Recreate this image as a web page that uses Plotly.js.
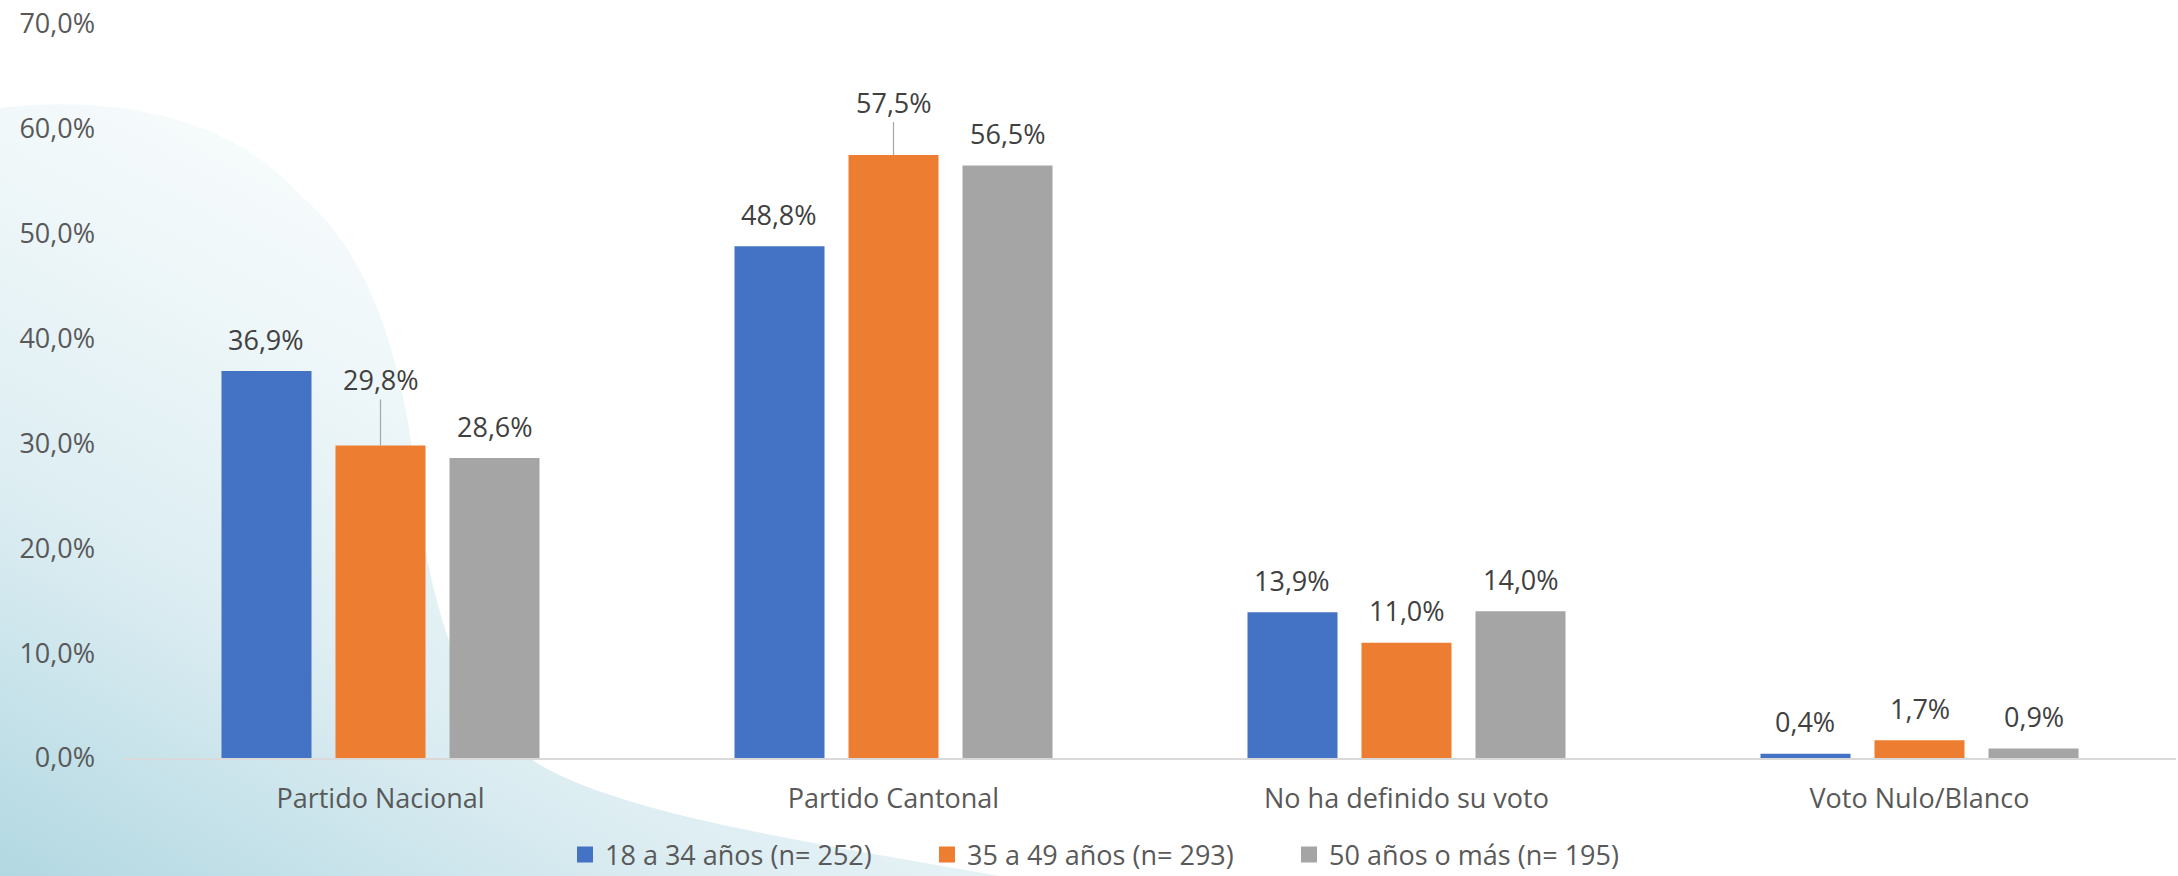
<!DOCTYPE html>
<html>
<head>
<meta charset="utf-8">
<script src="https://cdn.plot.ly/plotly-3.0.1.min.js"></script>
<style>
  html, body { margin: 0; padding: 0; background: #ffffff; }
  #chart { width: 2178px; height: 876px; }
</style>
</head>
<body>
<div id="chart"></div>
<script>
// ---- data ----
const categories = ['Partido Nacional', 'Partido Cantonal', 'No ha definido su voto', 'Voto Nulo/Blanco'];
const seriesNames = ['18 a 34 años (n= 252)', '35 a 49 años (n= 293)', '50 años o más (n= 195)'];
const age18to34 = [36.9, 48.8, 13.9, 0.4];
const age35to49 = [29.8, 57.5, 11.0, 1.7];
const age50plus = [28.6, 56.5, 14.0, 0.9];
const yTickVals = [0, 10, 20, 30, 40, 50, 60, 70];

// ---- styles ----
const seriesValues = [age18to34, age35to49, age50plus];
const colors = ['#4472C4', '#ED7D31', '#A5A5A5'];
const FONT = '"Open Sans", "Noto Sans", Lato, sans-serif';
const W = 2178, H = 876;
const M = { l: 124, r: 2, t: 24, b: 118 };
const plotW = W - M.l - M.r, plotH = H - M.t - M.b;
const BARGAP = 0.3333, BARGROUPGAP = 0.2105;
const slot = (1 - BARGAP) / 3;
const offsets = [-slot, 0, slot];
// labels moved up with a leader line: key "series-category" -> pixel offset
const raisedLabels = { '1-0': 66, '1-1': 53 };
const LABEL_SHIFT = 32;

function fmt(v) { return v.toFixed(1).replace('.', ',') + '%'; }

const traces = seriesValues.map((vals, s) => ({
  type: 'bar',
  name: seriesNames[s],
  x: categories,
  y: vals,
  marker: { color: colors[s] },
  showlegend: false,
  hoverinfo: 'skip'
}));
// legend entries (square swatches)
seriesNames.forEach((n, s) => traces.push({
  type: 'scatter', mode: 'markers', name: n,
  x: [null], y: [null],
  marker: { symbol: 'square', size: 16, color: colors[s] },
  showlegend: true, hoverinfo: 'skip'
}));

const annotations = [];
seriesValues.forEach((vals, s) => {
  vals.forEach((v, i) => {
    const key = s + '-' + i;
    const base = {
      x: i + offsets[s], xref: 'x', y: v, yref: 'y',
      text: fmt(v),
      font: { family: FONT, size: 27, color: '#404040' }
    };
    if (raisedLabels[key]) {
      annotations.push(Object.assign(base, {
        showarrow: true, arrowhead: 0, arrowwidth: 1.2, arrowcolor: '#A6A6A6',
        ax: 0, ay: -raisedLabels[key], standoff: 0
      }));
    } else {
      annotations.push(Object.assign(base, {
        showarrow: false, yanchor: 'middle', yshift: LABEL_SHIFT
      }));
    }
  });
});

const bgSvg =
  '<svg xmlns="http://www.w3.org/2000/svg" width="' + W + '" height="' + H + '" viewBox="0 0 ' + W + ' ' + H + '">' +
  '<defs><linearGradient id="g" gradientUnits="userSpaceOnUse" x1="0" y1="876" x2="400" y2="140">' +
  '<stop offset="0" stop-color="#b2d8e2"/>' +
  '<stop offset="0.4" stop-color="#dcedf2"/>' +
  '<stop offset="0.75" stop-color="#eff7f9"/>' +
  '<stop offset="1" stop-color="#fafdfd"/>' +
  '</linearGradient></defs>' +
  '<path d="M0,108 C110,95 230,115 300,195 C380,260 410,390 420,520 C440,640 470,720 540,765 C620,810 760,835 1000,876 L0,876 Z" fill="url(#g)"/>' +
  '</svg>';

const layout = {
  width: W, height: H,
  margin: M,
  paper_bgcolor: '#ffffff',
  plot_bgcolor: 'rgba(0,0,0,0)',
  separators: ',.',
  barmode: 'group',
  bargap: BARGAP,
  bargroupgap: BARGROUPGAP,
  font: { family: FONT, size: 27, color: '#595959' },
  xaxis: {
    type: 'category',
    range: [-0.5, 3.5],
    showline: true, linecolor: '#D9D9D9', linewidth: 2,
    showgrid: false, zeroline: false,
    ticks: '', ticklabelstandoff: 16,
    tickfont: { family: FONT, size: 27, color: '#595959' },
    fixedrange: true
  },
  yaxis: {
    range: [0, 70],
    tickvals: yTickVals,
    ticktext: yTickVals.map(fmt),
    showgrid: false, zeroline: false, showline: false,
    ticks: '', ticklabelstandoff: 28,
    tickfont: { family: FONT, size: 27, color: '#595959' },
    fixedrange: true
  },
  legend: {
    orientation: 'h',
    xref: 'container', yref: 'container',
    x: 565 / W, xanchor: 'left',
    y: 1 - 855 / H, yanchor: 'middle',
    entrywidth: 317, entrywidthmode: 'pixels',
    font: { family: FONT, size: 27, color: '#595959' },
    bgcolor: 'rgba(0,0,0,0)',
    itemclick: false, itemdoubleclick: false
  },
  annotations: annotations,
  images: [{
    source: 'data:image/svg+xml;charset=utf-8,' + encodeURIComponent(bgSvg),
    xref: 'paper', yref: 'paper',
    x: -M.l / plotW, y: 1 + M.t / plotH,
    sizex: W / plotW, sizey: H / plotH,
    xanchor: 'left', yanchor: 'top',
    sizing: 'stretch', layer: 'below'
  }],
  hovermode: false,
  showlegend: true
};

Plotly.newPlot('chart', traces, layout, { displayModeBar: false, staticPlot: true });
</script>
</body>
</html>
